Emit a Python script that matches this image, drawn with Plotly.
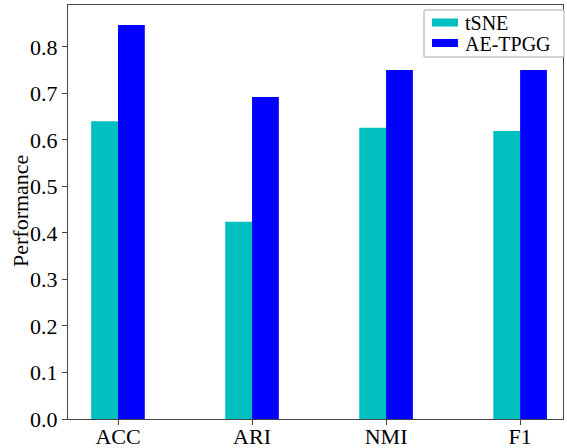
import plotly.graph_objects as go

categories = ["ACC", "ARI", "NMI", "F1"]
tsne = [0.640, 0.424, 0.626, 0.619]
ae_tpgg = [0.847, 0.692, 0.750, 0.750]
series_names = ["tSNE", "AE-TPGG"]
colors = ["#00BFBF", "#0000FF"]
yticks = [0.0, 0.1, 0.2, 0.3, 0.4, 0.5, 0.6, 0.7, 0.8]

FONT = "Liberation Serif"
W, H = 567, 448
L, R, T, B = 68, 4, 5, 29
PW, PH = W - L - R, H - T - B


def px(xp):
    return (xp - L) / PW


def py(yp):
    return (H - B - yp) / PH


fig = go.Figure()
for name, vals, col in zip(series_names, [tsne, ae_tpgg], colors):
    fig.add_trace(go.Bar(x=categories, y=vals, name=name,
                         marker=dict(color=col, line=dict(width=0)), showlegend=False))

axis_common = dict(showline=True, linecolor="#444", linewidth=1, mirror=True,
                   ticks="outside", ticklen=5, tickcolor="#444", showgrid=False,
                   zeroline=False, automargin=False,
                   tickfont=dict(family=FONT, size=22, color="black"))

# manual legend (matplotlib style)
shapes = [dict(type="rect", xref="paper", yref="paper", x0=px(424), x1=px(564),
               y0=py(57), y1=py(10), line=dict(color="#aaa", width=1), fillcolor="white",
               layer="above")]
annotations = []
for i, (name, col) in enumerate(zip(series_names, colors)):
    yc = 22.5 + i * 20.5
    shapes.append(dict(type="rect", xref="paper", yref="paper", x0=px(432), x1=px(458),
                       y0=py(yc + 4), y1=py(yc - 4), line=dict(width=0), fillcolor=col,
                       layer="above"))
    annotations.append(dict(x=px(463), y=py(yc + 1), xref="paper", yref="paper", text=name,
                            showarrow=False, xanchor="left", yanchor="middle", height=20,
                            font=dict(family=FONT, size=20, color="black")))

annotations.append(dict(x=px(20), y=py(211), xref="paper", yref="paper", text="Performance",
                        textangle=-90, showarrow=False, xanchor="center", yanchor="middle",
                        font=dict(family=FONT, size=22, color="black")))

fig.update_layout(
    width=W, height=H,
    margin=dict(l=L, r=R, t=T, b=B),
    barmode="group", bargap=0.6, bargroupgap=0,
    plot_bgcolor="white", paper_bgcolor="white",
    font=dict(family=FONT, size=22, color="black"),
    showlegend=False,
    xaxis=dict(range=[-0.373, 3.32], ticklabelstandoff=-7, **axis_common),
    yaxis=dict(range=[0, 0.89], tickvals=yticks, tickformat=".1f", **axis_common),
    shapes=shapes,
    annotations=annotations,
)

fig.write_html("out.html")
